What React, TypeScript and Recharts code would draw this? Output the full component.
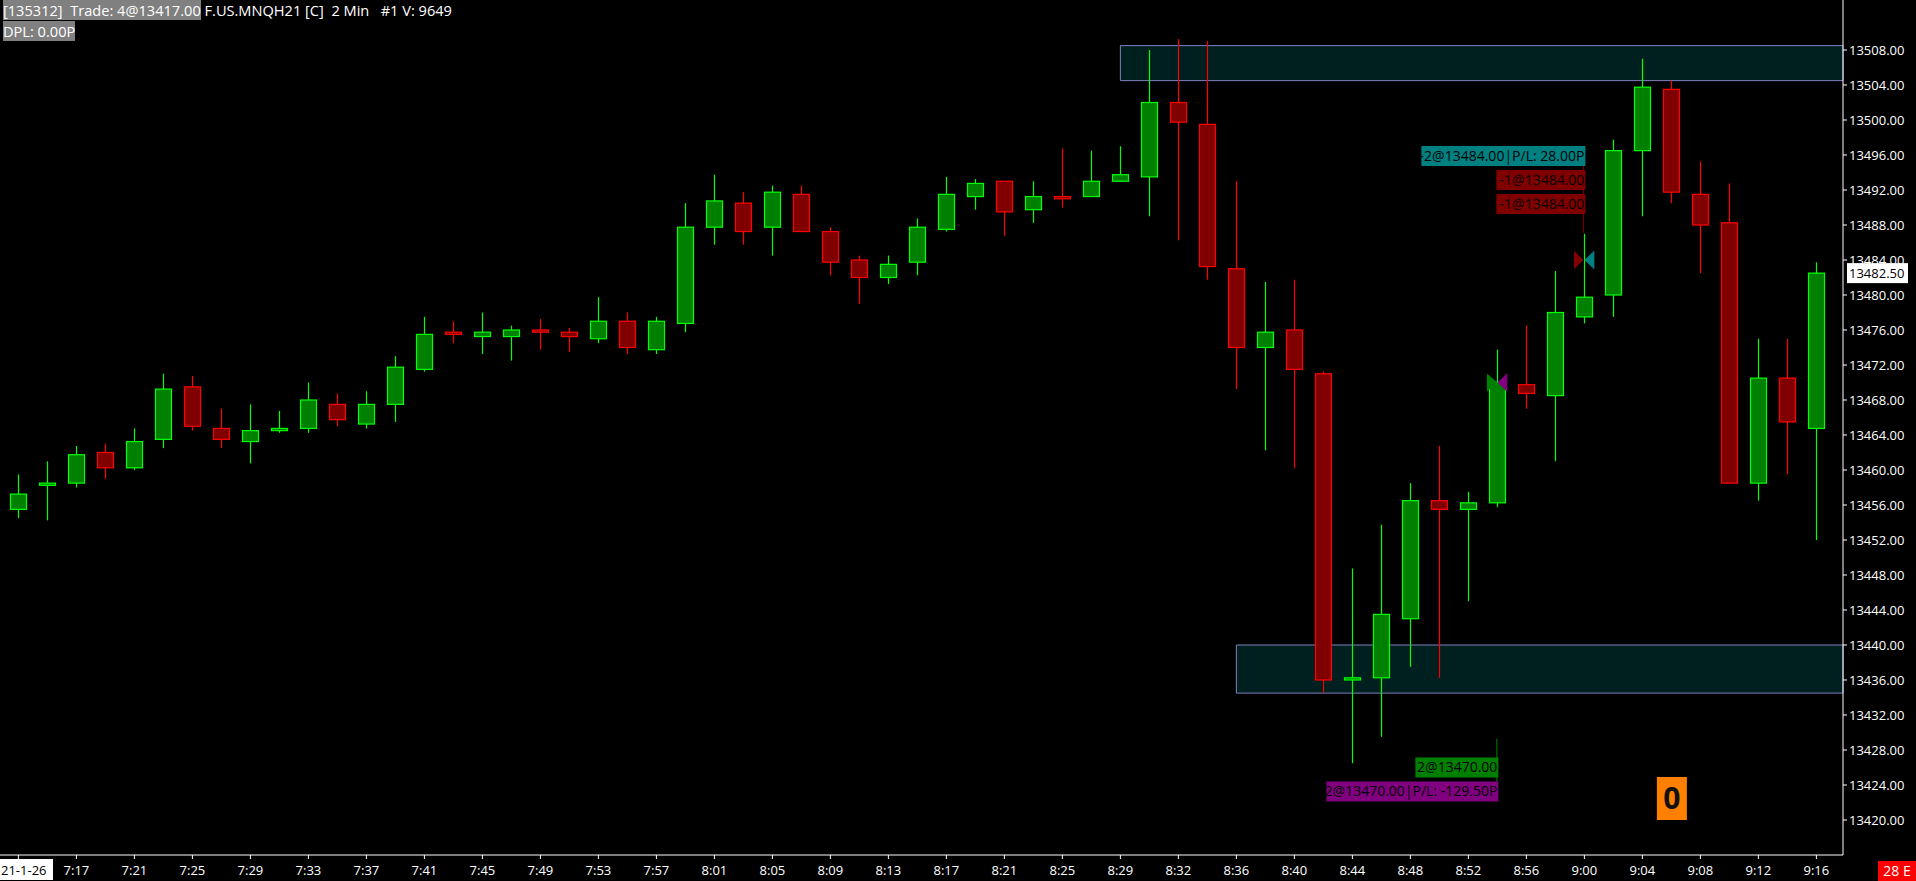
import React from 'react';
import { ComposedChart, Bar, XAxis, YAxis, ReferenceArea, ReferenceDot } from 'recharts';

// 2 min bars, 21-1-26, F.US.MNQH21
const tickLabels = ['21-1-26', '7:17', '7:21', '7:25', '7:29', '7:33', '7:37', '7:41', '7:45', '7:49', '7:53', '7:57',
    '8:01', '8:05', '8:09', '8:13', '8:17', '8:21', '8:25', '8:29', '8:32', '8:36', '8:40', '8:44', '8:48', '8:52', '8:56',
    '9:00', '9:04', '9:08', '9:12', '9:16'];

const opens = [13455.5, 13458.25, 13458.5, 13462, 13460.25, 13463.5, 13469.5, 13464.75, 13463.25, 13464.5,
    13464.75, 13467.5, 13465.25, 13467.5, 13471.5, 13475.75, 13475.25, 13475.25, 13476, 13475.75,
    13475, 13477, 13473.75, 13476.75, 13487.75, 13490.5, 13487.75, 13491.5, 13487.25, 13484,
    13482, 13483.75, 13487.5, 13491.25, 13493, 13489.75, 13491.25, 13491.25, 13493, 13493.5,
    13502, 13499.5, 13483, 13474, 13476, 13471, 13436, 13436.25, 13443, 13456.5,
    13455.5, 13456.25, 13469.75, 13468.5, 13477.5, 13480, 13496.5, 13503.5, 13491.5, 13488.25,
    13458.5, 13470.5, 13464.75];

const highs = [13459.5, 13461, 13462.75, 13463, 13464.75, 13471, 13470.75, 13467, 13467.5, 13466.75,
    13470, 13468.75, 13469, 13473, 13477.5, 13477, 13478, 13476.5, 13477.25, 13476.25,
    13479.75, 13478, 13477.5, 13490.5, 13493.75, 13491.75, 13492.5, 13492.5, 13487.75, 13484.5,
    13484.5, 13488.75, 13493.5, 13493.25, 13493, 13493, 13496.75, 13496.5, 13497, 13508,
    13509.25, 13509, 13493, 13481.5, 13481.75, 13471.25, 13448.75, 13453.75, 13458.5, 13462.75,
    13457.5, 13473.75, 13476.5, 13482.75, 13487, 13497.75, 13507, 13504.5, 13495.25, 13492.75,
    13475, 13475, 13483.75];

const lows = [13454.5, 13454.25, 13458, 13459, 13460, 13462.5, 13464.5, 13462.5, 13460.75, 13464.25,
    13464.25, 13465, 13464.75, 13465.5, 13471.25, 13474.5, 13473.25, 13472.5, 13473.75, 13473.5,
    13474.5, 13473.25, 13473.25, 13475.75, 13485.75, 13485.75, 13484.5, 13487.25, 13482.25, 13479,
    13481.25, 13482.25, 13487.25, 13489.75, 13486.75, 13488.25, 13490, 13491.25, 13493, 13489,
    13486.25, 13481.75, 13469.25, 13462.25, 13460.25, 13434.5, 13426.5, 13429.5, 13437.5, 13436.25,
    13445, 13455.75, 13467, 13461, 13476.75, 13477.5, 13489, 13490.5, 13482.5, 13458.5,
    13456.5, 13459.5, 13452];

const closes = [13457.25, 13458.5, 13461.75, 13460.25, 13463.25, 13469.25, 13465, 13463.5, 13464.5, 13464.75,
    13468, 13465.75, 13467.5, 13471.75, 13475.5, 13475.5, 13475.75, 13476, 13475.75, 13475.25,
    13477, 13474, 13477, 13487.75, 13490.75, 13487.25, 13491.75, 13487.25, 13483.75, 13482,
    13483.5, 13487.75, 13491.5, 13492.75, 13489.5, 13491.25, 13491, 13493, 13493.75, 13502,
    13499.75, 13483.25, 13474, 13475.75, 13471.5, 13436, 13436.25, 13443.5, 13456.5, 13455.5,
    13456.25, 13470, 13468.75, 13478, 13479.75, 13496.5, 13503.75, 13491.75, 13488, 13458.5,
    13470.5, 13465.5, 13482.5];

const priceTicks = [13420, 13424, 13428, 13432, 13436, 13440, 13444, 13448, 13452, 13456, 13460, 13464,
    13468, 13472, 13476, 13480, 13484, 13488, 13492, 13496, 13500, 13504, 13508];

// supply / demand zones: start bar, low, high
const zoneStarts = [38, 42];
const zoneLows = [13504.5, 13434.5];
const zoneHighs = [13508.5, 13440];

const lastPrice = 13482.5;
const sellBar = 54;
const sellPrice = 13484;
const buyBar = 51;
const buyPrice = 13470;

const X_MIN = -0.6345;
const X_MAX = 62.918;
const FONT = '"Open Sans", "Noto Sans", sans-serif';

const data = opens.map((o, i) => ({
    i,
    range: [lows[i], highs[i]],
    open: o,
    high: highs[i],
    low: lows[i],
    close: closes[i],
}));

const Candle = (props: any) => {
    const { x, y, width, height, payload } = props;
    const top = Math.min(y, y + height);
    const bottom = Math.max(y, y + height);
    const { open, close, high, low } = payload;
    const k = (bottom - top) / (high - low);
    const yOf = (v: number) => top + (high - v) * k;
    const up = close >= open;
    const cx = Math.round(x + width / 2) + 0.5;
    const bTop = yOf(Math.max(open, close));
    const bBot = yOf(Math.min(open, close));
    const line = up ? '#00ff00' : '#ff0000';
    const fill = up ? '#008000' : '#800000';
    return (
        <g>
            <line x1={cx} x2={cx} y1={top} y2={bottom} stroke={line} strokeWidth={1.2} />
            <rect x={cx - 8} y={bTop} width={16} height={Math.max(bBot - bTop, 1.5)} fill={fill} stroke={line} strokeWidth={1.2} />
        </g>
    );
};

const XTick = (props: any) => {
    const { x, y, payload } = props;
    const label = tickLabels[Math.round(payload.value / 2)];
    if (payload.value === 0) {
        return (
            <g>
                <rect x={0} y={y - 2} width={53} height={21} fill="#ffffff" />
                <text x={1} y={y + 14} fill="#000" fontSize={13} fontFamily={FONT}>{label}</text>
            </g>
        );
    }
    return (
        <text x={x} y={y + 14} textAnchor="middle" fill="#ffffff" fontSize={13} fontFamily={FONT}>{label}</text>
    );
};

const SellMarker = (props: any) => {
    const { cx, cy } = props;
    const lx = cx + 1;
    const labels = [
        { text: '-2@13484.00|P/L: 28.00P', bg: '#008080', w: 164, top: -114 },
        { text: '-1@13484.00', bg: '#800000', w: 89, top: -90 },
        { text: '-1@13484.00', bg: '#800000', w: 89, top: -66 },
    ];
    return (
        <g>
            <line x1={cx - 1} x2={cx - 1} y1={cy - 95} y2={cy - 27} stroke="#800000" strokeWidth={1} />
            {labels.map((l, k) => (
                <g key={k}>
                    <rect x={lx - l.w} y={cy + l.top} width={l.w} height={20} fill={l.bg} />
                    <text x={lx - 1} y={cy + l.top + 15} textAnchor="end" fill="#000" fontSize={14} fontFamily={FONT}>{l.text}</text>
                </g>
            ))}
            <polygon points={`${cx - 10.5},${cy - 9.5} ${cx - 10.5},${cy + 9.5} ${cx - 1},${cy}`} fill="#800000" />
            <polygon points={`${cx + 10},${cy - 9.5} ${cx + 10},${cy + 9.5} ${cx},${cy}`} fill="#008080" />
        </g>
    );
};

const BuyMarker = (props: any) => {
    const { cx, cy } = props;
    const lx = cx + 1;
    return (
        <g>
            <polygon points={`${cx - 10.5},${cy - 9} ${cx - 10.5},${cy + 9} ${cx},${cy}`} fill="#008000" />
            <polygon points={`${cx + 10},${cy - 9.5} ${cx + 10},${cy + 9.5} ${cx},${cy}`} fill="#800080" />
            <line x1={cx - 0.5} x2={cx - 0.5} y1={cy + 356} y2={cy + 399} stroke="#008000" strokeWidth={1} />
            <rect x={lx - 83} y={cy + 375} width={83} height={20} fill="#008000" />
            <text x={lx - 1} y={cy + 390} textAnchor="end" fill="#000" fontSize={14} fontFamily={FONT}>2@13470.00</text>
            <rect x={lx - 172} y={cy + 399} width={172} height={20} fill="#800080" />
            <text x={lx - 1} y={cy + 414} textAnchor="end" fill="#000" fontSize={14} fontFamily={FONT}>2@13470.00|P/L: -129.50P</text>
        </g>
    );
};

const ZeroBox = (props: any) => {
    const { cx, cy } = props;
    return (
        <g>
            <rect x={cx - 14.5} y={cy - 43} width={30} height={43} fill="#ff8000" />
            <text x={cx + 0.5} y={cy - 11} textAnchor="middle" fill="#111" fontSize={30} fontWeight="bold" fontFamily={FONT}>0</text>
        </g>
    );
};

const LastPriceTag = (props: any) => {
    const { cy } = props;
    return (
        <g>
            <rect x={1847} y={cy - 10} width={61} height={20} fill="#ffffff" />
            <text x={1849} y={cy + 5} fill="#000" fontSize={13} fontFamily={FONT}>{lastPrice.toFixed(2)}</text>
        </g>
    );
};

const App: React.FC = () => {
    return (
        <div style={{ position: 'relative', width: 1916, height: 881, background: '#000', overflow: 'hidden' }}>
            <style>{'body{margin:0;background:#000}'}</style>
            <ComposedChart width={1916} height={881} data={data} margin={{ top: 0, right: 0, bottom: 0, left: 0 }}>
                <XAxis
                    dataKey="i"
                    type="number"
                    domain={[X_MIN, X_MAX]}
                    allowDataOverflow
                    ticks={tickLabels.map((_, k) => k * 2)}
                    interval={0}
                    tick={<XTick />}
                    tickSize={4}
                    height={26}
                    axisLine={{ stroke: '#ffffff' }}
                    tickLine={{ stroke: '#ffffff' }}
                />
                <YAxis
                    orientation="right"
                    type="number"
                    domain={[13416, 13513.714]}
                    allowDataOverflow
                    ticks={priceTicks}
                    interval={0}
                    width={73}
                    tickSize={4}
                    tickMargin={2}
                    tickFormatter={(v: number) => v.toFixed(2)}
                    tick={{ fill: '#ffffff', fontSize: 13, fontFamily: FONT }}
                    axisLine={{ stroke: '#ffffff' }}
                    tickLine={{ stroke: '#ffffff' }}
                />
                {zoneStarts.map((s, k) => (
                    <ReferenceArea
                        key={k}
                        x1={s}
                        x2={X_MAX}
                        y1={zoneLows[k]}
                        y2={zoneHighs[k]}
                        fill="#002020"
                        fillOpacity={1}
                        stroke="#8080c0"
                        strokeWidth={1}
                    />
                ))}
                <Bar dataKey="range" barSize={16} shape={Candle} isAnimationActive={false} />
                <ReferenceDot x={sellBar} y={sellPrice} r={0} shape={SellMarker} ifOverflow="visible" />
                <ReferenceDot x={buyBar} y={buyPrice} r={0} shape={BuyMarker} ifOverflow="visible" />
                <ReferenceDot x={57} y={13420} r={0} shape={ZeroBox} ifOverflow="visible" />
                <ReferenceDot x={X_MAX} y={lastPrice} r={0} shape={LastPriceTag} ifOverflow="visible" />
            </ComposedChart>
            <div style={{ position: 'absolute', left: 3, top: 0, font: `14.6px ${FONT}`, color: '#fff', whiteSpace: 'pre', lineHeight: '20px' }}>
                <span style={{ background: '#808080' }}>[135312]  Trade: 4@13417.00</span> F.US.MNQH21 [C]  2 Min   #1 V: 9649
            </div>
            <div style={{ position: 'absolute', left: 3, top: 22, font: `14.6px ${FONT}`, color: '#fff', whiteSpace: 'pre', lineHeight: '19px' }}>
                <span style={{ background: '#808080' }}>DPL: 0.00P</span>
            </div>
            <div style={{ position: 'absolute', right: 0, bottom: 0, width: 38, height: 20, background: '#ff0000', color: '#fff', font: `14px ${FONT}`, lineHeight: '20px', textAlign: 'center' }}>
                28 E
            </div>
        </div>
    );
};

export default App;
